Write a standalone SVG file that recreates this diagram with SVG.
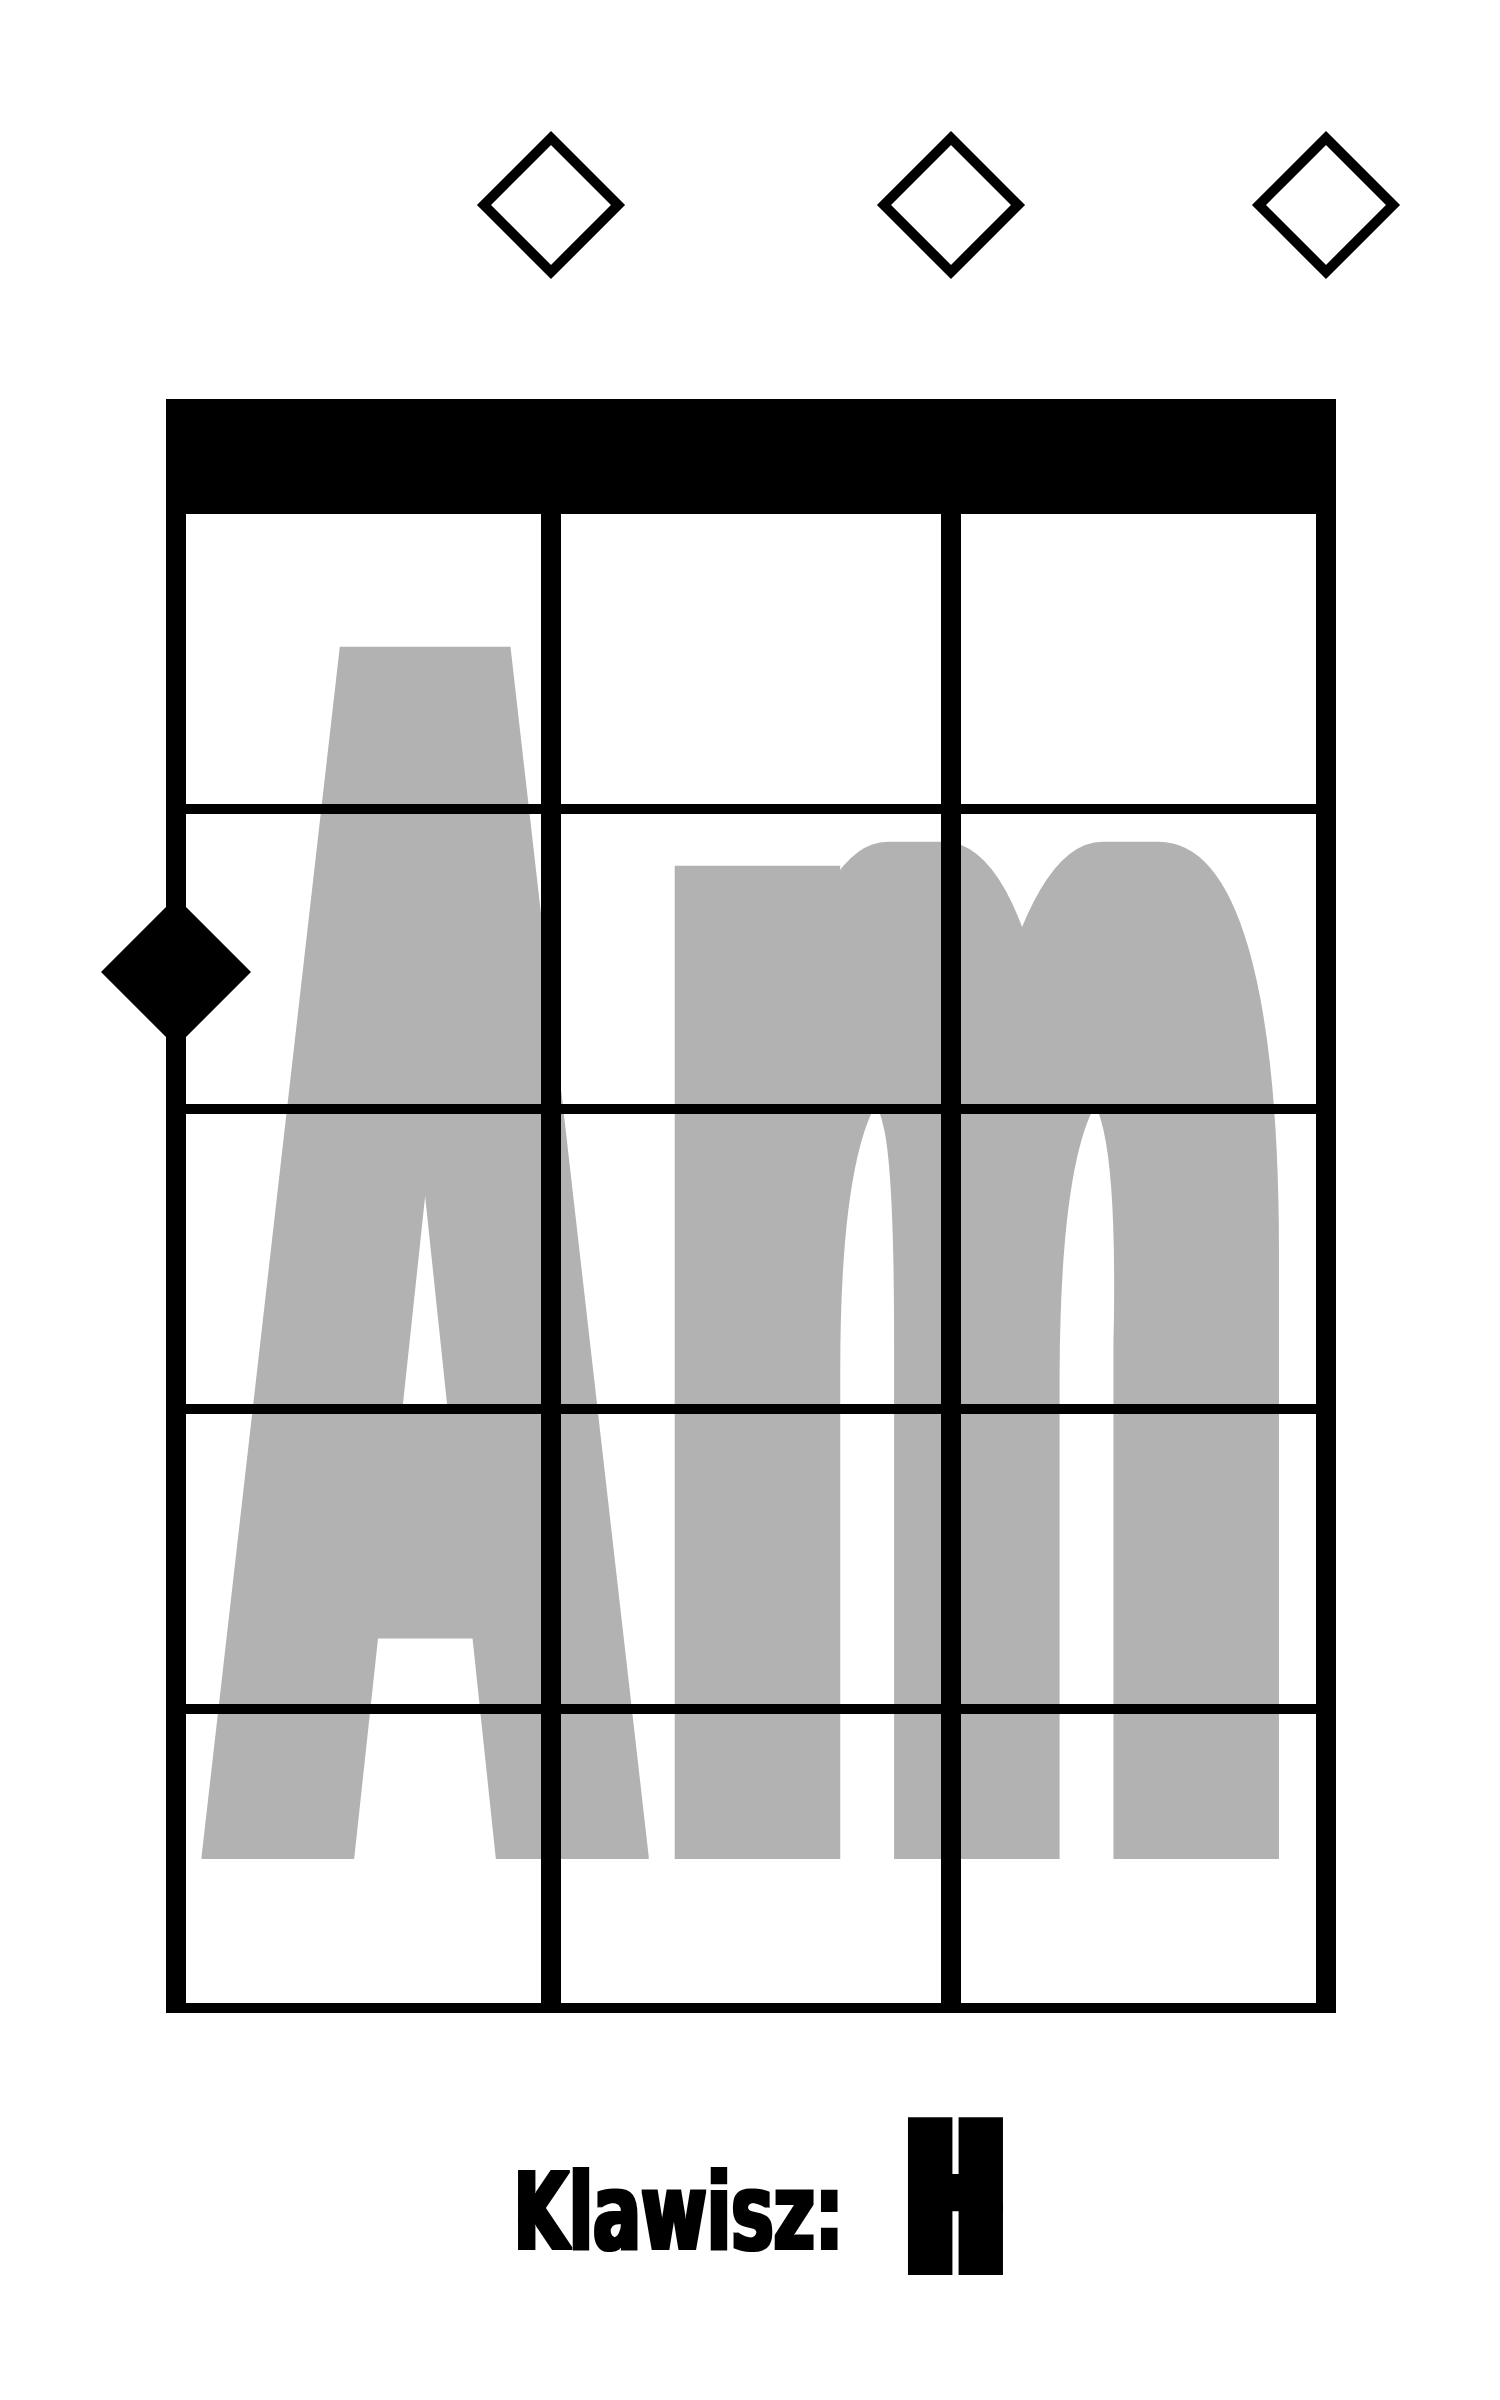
<svg xmlns="http://www.w3.org/2000/svg" width="1500" height="2400" viewBox="0 0 1500 2400">
  <style>
    .open { fill: #ffffff; stroke: #000000; stroke-width: 10; stroke-linejoin: miter; }
    .filled { fill: #000000; }
    .str { fill: #000000; }
    .fret { fill: #000000; }
    .big { font-family: "DejaVu Sans Condensed", "DejaVu Sans", sans-serif; font-weight: bold; fill: #b2b2b2; }
    .lbl { font-family: "DejaVu Sans Condensed", "DejaVu Sans", sans-serif; font-weight: bold; fill: #000000; }
  </style>
  <defs>
    <filter id="fatBig" x="-10%" y="-5%" width="120%" height="110%" color-interpolation-filters="sRGB">
      <feMorphology operator="dilate" radius="28 0.5"/>
    </filter>
    <filter id="fatKey" x="-10%" y="-20%" width="120%" height="140%" color-interpolation-filters="sRGB">
      <feMorphology operator="dilate" radius="1.5 1"/>
    </filter>
    <filter id="fatH" x="-30%" y="-20%" width="160%" height="140%" color-interpolation-filters="sRGB">
      <feMorphology operator="dilate" radius="11.5 4"/>
    </filter>
  </defs>
  <rect x="0" y="0" width="1500" height="2400" fill="#ffffff"/>

  <g id="chord-name" filter="url(#fatBig)">
    <text class="big" font-size="100" transform="translate(0,1858) scale(16.6)"><tspan x="13.675" y="0" textLength="23.855" lengthAdjust="spacingAndGlyphs">A</tspan><tspan x="39.217" y="0" font-size="109.2" textLength="39.096" lengthAdjust="spacingAndGlyphs">m</tspan></text>
  </g>

  <g id="grid">
    <path id="nut" d="M172,399 H1330 Q1336,399 1336,405 V514 H166 V405 Q166,399 172,399 Z" class="str"/>
    <rect class="str" x="166" y="399" width="20" height="1614"/>
    <rect class="str" x="541" y="399" width="20" height="1614"/>
    <rect class="str" x="941" y="399" width="20" height="1614"/>
    <rect class="str" x="1316" y="399" width="20" height="1614"/>
    <rect class="fret" x="166" y="804" width="1170" height="10"/>
    <rect class="fret" x="166" y="1104" width="1170" height="10"/>
    <rect class="fret" x="166" y="1404" width="1170" height="10"/>
    <rect class="fret" x="166" y="1704" width="1170" height="10"/>
    <rect class="fret" x="166" y="2003" width="1170" height="10"/>
  </g>

  <g id="open-string-2">
    <path class="open" d="M551,138 L618,205 L551,272 L484,205 Z"/>
  </g>
  <g id="open-string-3">
    <path class="open" d="M951,138 L1018,205 L951,272 L884,205 Z"/>
  </g>
  <g id="open-string-4">
    <path class="open" d="M1326,138 L1393,205 L1326,272 L1259,205 Z"/>
  </g>

  <g id="finger-string-1">
    <path class="filled" d="M176,897 L251,972 L176,1047 L101,972 Z"/>
  </g>

  <g id="key-label">
    <g filter="url(#fatKey)">
      <text class="lbl" font-size="107" x="513.5" y="2249" textLength="330" lengthAdjust="spacingAndGlyphs">Klawisz:</text>
    </g>
    <g filter="url(#fatH)">
      <text class="lbl" font-size="205.8" x="910" y="2271" textLength="91" lengthAdjust="spacingAndGlyphs">H</text>
    </g>
  </g>
</svg>
